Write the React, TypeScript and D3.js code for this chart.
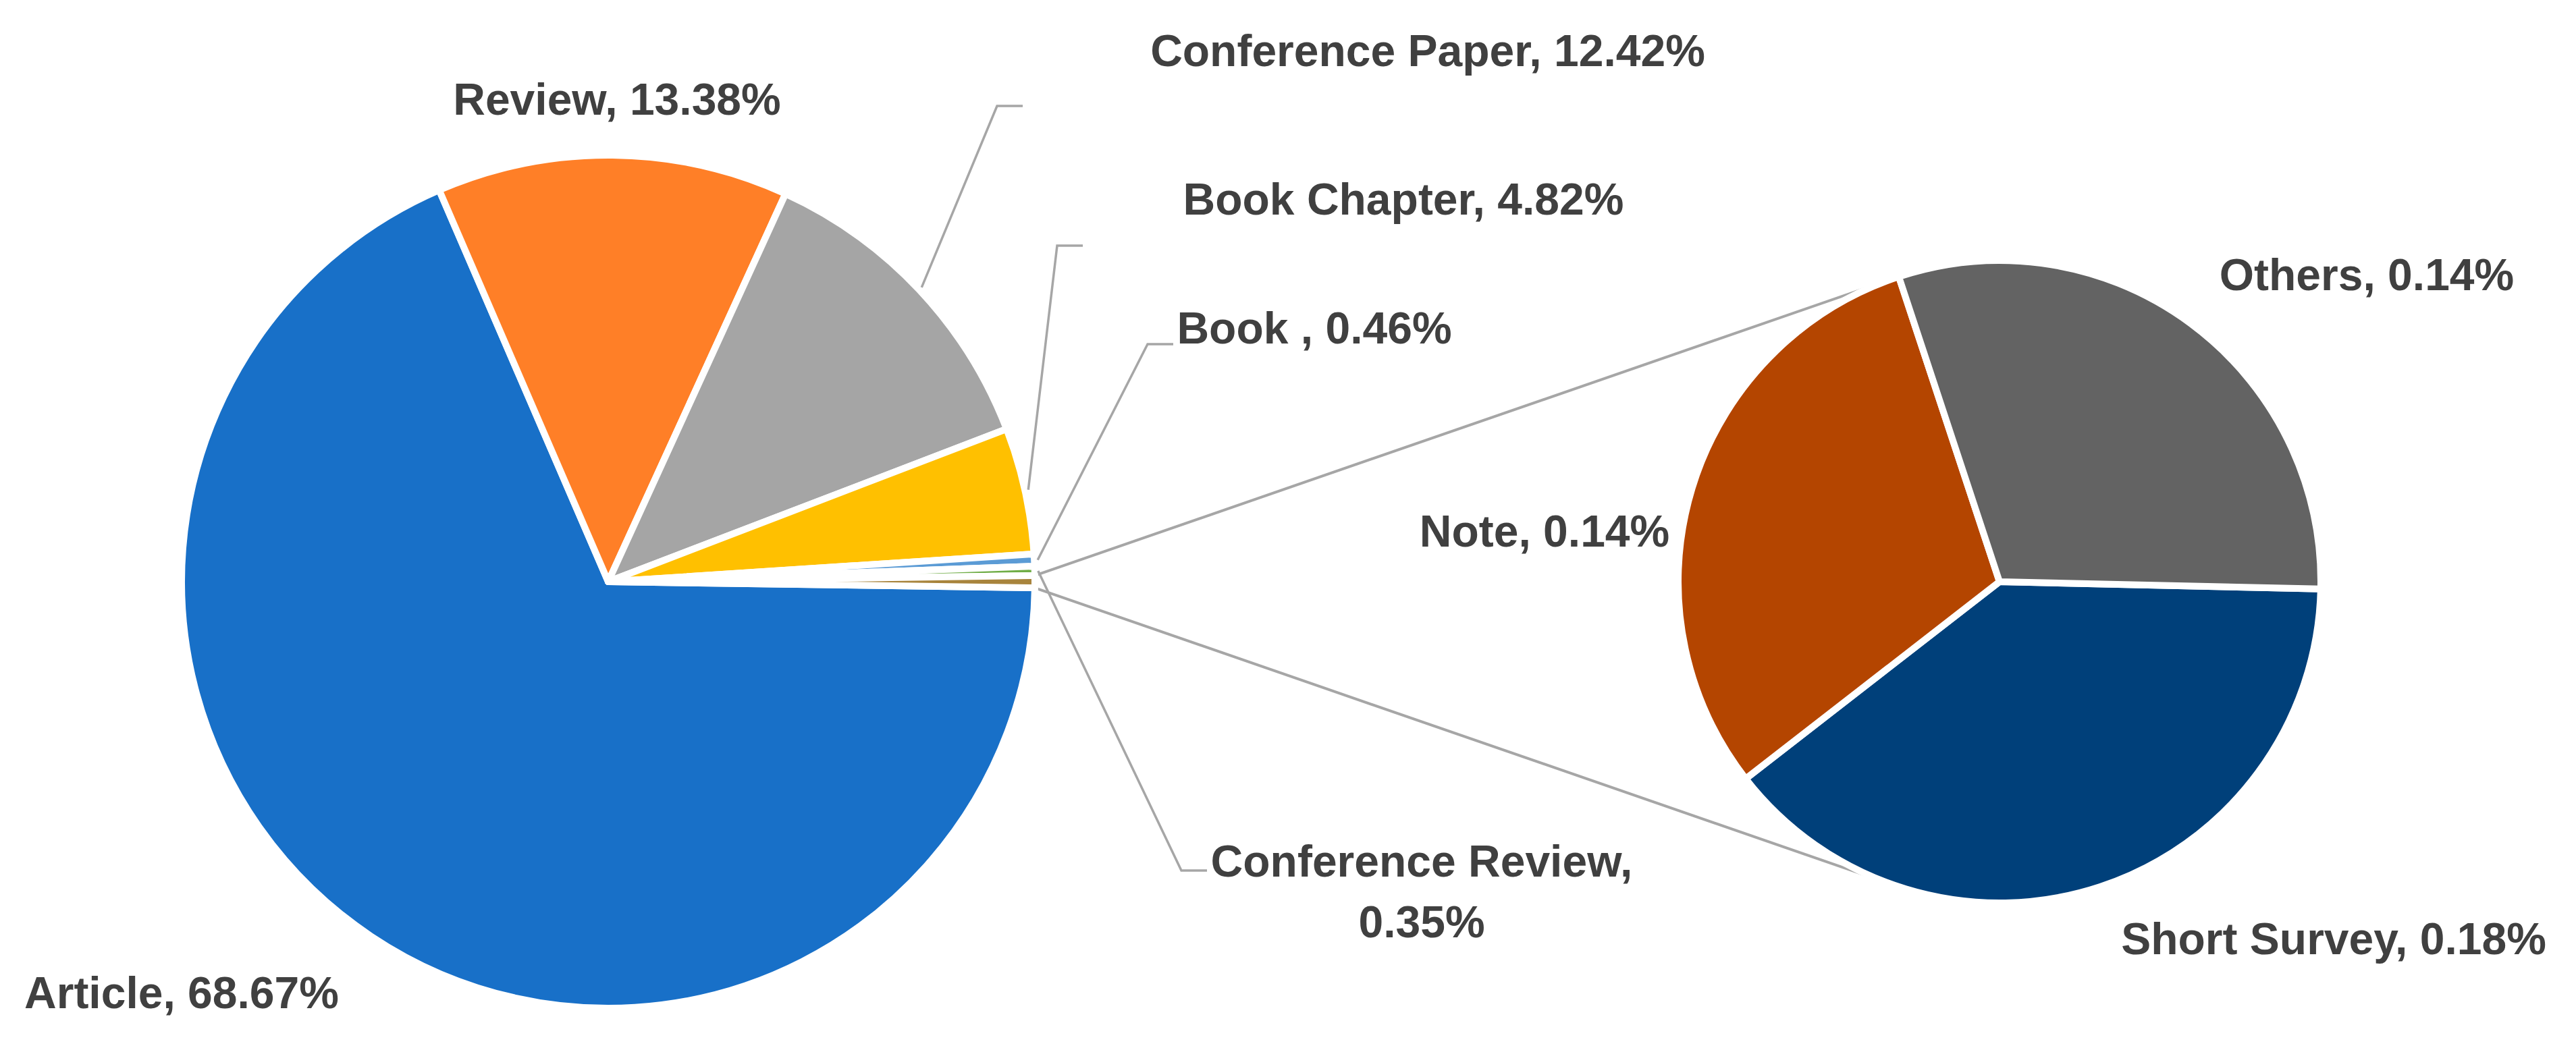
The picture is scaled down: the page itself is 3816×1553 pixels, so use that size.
import React from "react";
import * as d3 from "d3";

// ---- data ----
const mainCategories = ["Article", "Review", "Conference Paper", "Book Chapter", "Book ", "Conference Review"];
const mainValues = [68.67, 13.38, 12.42, 4.82, 0.46, 0.35];
const mainColors = ["#1870C8", "#FF7F27", "#A5A5A5", "#FFC000", "#5B9BD5", "#70AD47"];
const otherColor = "#A8843C";

const subCategories = ["Short Survey", "Note", "Others"];
const subValues = [0.18, 0.14, 0.14];
const subColors = ["#00407A", "#B44500", "#636363"];

// ---- layout ----
const W = 3816;
const H = 1553;
const mainC = { x: 901, y: 862 };
const mainR = 632;
const subC = { x: 2962, y: 862 };
const subR = 476;
const subStartDeg = 91.3;
const FONT = "'Liberation Sans', Arial, sans-serif";
const FS = 66;
const TXT = "#404040";
const LINE = "#A6A6A6";

// label anchor positions (centre of text) and leader-line elbows
const mainLabelLayout = [
  { x: 269, y: 1470 },
  { x: 914, y: 146 },
  { x: 2115, y: 74, elbow: [1477, 157] },
  { x: 2079, y: 294, elbow: [1566, 364] },
  { x: 1947, y: 485, elbow: [1700, 510] },
  { x: 2106, y: 1320, elbow: [1750, 1290], wrap: true },
];
const subLabelLayout = [
  { x: 3457, y: 1390 },
  { x: 2288, y: 786 },
  { x: 3506, y: 406 },
];

function pt(c: { x: number; y: number }, r: number, a: number) {
  return [c.x + r * Math.sin(a), c.y - r * Math.cos(a)];
}

export default function App() {
  const otherSum = d3.sum(subValues);
  const total = d3.sum(mainValues) + otherSum;
  const otherSpan = (2 * Math.PI * otherSum) / total;
  const start = Math.PI / 2 + otherSpan / 2;

  const mainData = mainValues.map((v, i) => ({ name: mainCategories[i], v, color: mainColors[i], i }));
  mainData.push({ name: "Other", v: otherSum, color: otherColor, i: -1 });

  const pieMain = d3
    .pie<any>()
    .sort(null)
    .value((d) => d.v)
    .startAngle(start)
    .endAngle(start + 2 * Math.PI);
  const mainArcs = pieMain(mainData);
  const arcMain = d3.arc<any>().innerRadius(0).outerRadius(mainR);

  const subStart = (subStartDeg * Math.PI) / 180;
  const pieSub = d3
    .pie<any>()
    .sort(null)
    .value((d) => d.v)
    .startAngle(subStart)
    .endAngle(subStart + 2 * Math.PI);
  const subArcs = pieSub(subValues.map((v, i) => ({ name: subCategories[i], v, color: subColors[i] })));
  const arcSub = d3.arc<any>().innerRadius(0).outerRadius(subR);

  // connector lines (tangents from the "Other" slice corners to the secondary pie)
  const otherArc = mainArcs[mainArcs.length - 1];
  const tangent = (p: number[], upper: boolean) => {
    const dx = subC.x - p[0];
    const dy = subC.y - p[1];
    const d = Math.hypot(dx, dy);
    const th = Math.atan2(dy, dx);
    const al = Math.asin(subR / d);
    const L = Math.sqrt(d * d - subR * subR);
    const a = upper ? th - al : th + al;
    return [p[0] + L * Math.cos(a), p[1] + L * Math.sin(a)];
  };
  const pUp = pt(mainC, mainR, otherArc.startAngle);
  const pDn = pt(mainC, mainR, otherArc.endAngle);
  const tUp = tangent(pUp, true);
  const tDn = tangent(pDn, false);

  const fmt = (v: number) => v.toFixed(2) + "%";

  const renderLabel = (text: string[], x: number, y: number, key: string) => {
    const lh = FS * 1.36;
    const y0 = y - ((text.length - 1) * lh) / 2;
    return (
      <text
        key={key}
        x={x}
        y={y0 + FS * 0.36}
        textAnchor="middle"
        fontFamily={FONT}
        fontWeight="bold"
        fontSize={FS}
        fill={TXT}
      >
        {text.map((t, k) => (
          <tspan key={k} x={x} dy={k === 0 ? 0 : lh}>
            {t}
          </tspan>
        ))}
      </text>
    );
  };

  return (
    <svg
      width={W}
      height={H}
      viewBox={`0 0 ${W} ${H}`}
      style={{ position: "absolute", left: 0, top: 0, background: "#fff" }}
    >
      <rect x={0} y={0} width={W} height={H} fill="#fff" />
      {/* connectors */}
      <line x1={pUp[0]} y1={pUp[1]} x2={tUp[0]} y2={tUp[1]} stroke={LINE} strokeWidth={4} />
      <line x1={pDn[0]} y1={pDn[1]} x2={tDn[0]} y2={tDn[1]} stroke={LINE} strokeWidth={4} />

      {/* main pie */}
      <g transform={`translate(${mainC.x},${mainC.y})`}>
        {mainArcs.map((a, k) => (
          <path key={k} d={arcMain(a) as string} fill={a.data.color} stroke="#fff" strokeWidth={10} strokeLinejoin="round" />
        ))}
      </g>

      {/* secondary pie */}
      <g transform={`translate(${subC.x},${subC.y})`}>
        {subArcs.map((a, k) => (
          <path key={k} d={arcSub(a) as string} fill={a.data.color} stroke="#fff" strokeWidth={10} strokeLinejoin="round" />
        ))}
      </g>

      {/* leader lines */}
      {mainArcs.slice(0, mainValues.length).map((a, k) => {
        const lay: any = mainLabelLayout[k];
        if (!lay.elbow) return null;
        const mid = (a.startAngle + a.endAngle) / 2;
        const s = pt(mainC, mainR + 5, mid);
        const e = lay.elbow;
        const pts = [s, e, [e[0] + 38, e[1]]];
        return (
          <path
            key={"ld" + k}
            d={d3.line()(pts as any) as string}
            fill="none"
            stroke={LINE}
            strokeWidth={3.5}
          />
        );
      })}

      {/* labels */}
      {mainValues.map((v, k) => {
        const lay: any = mainLabelLayout[k];
        const lines = lay.wrap ? [mainCategories[k] + ",", fmt(v)] : [mainCategories[k] + ", " + fmt(v)];
        return renderLabel(lines, lay.x, lay.y, "ml" + k);
      })}
      {subValues.map((v, k) => {
        const lay = subLabelLayout[k];
        return renderLabel([subCategories[k] + ", " + fmt(v)], lay.x, lay.y, "sl" + k);
      })}
    </svg>
  );
}
